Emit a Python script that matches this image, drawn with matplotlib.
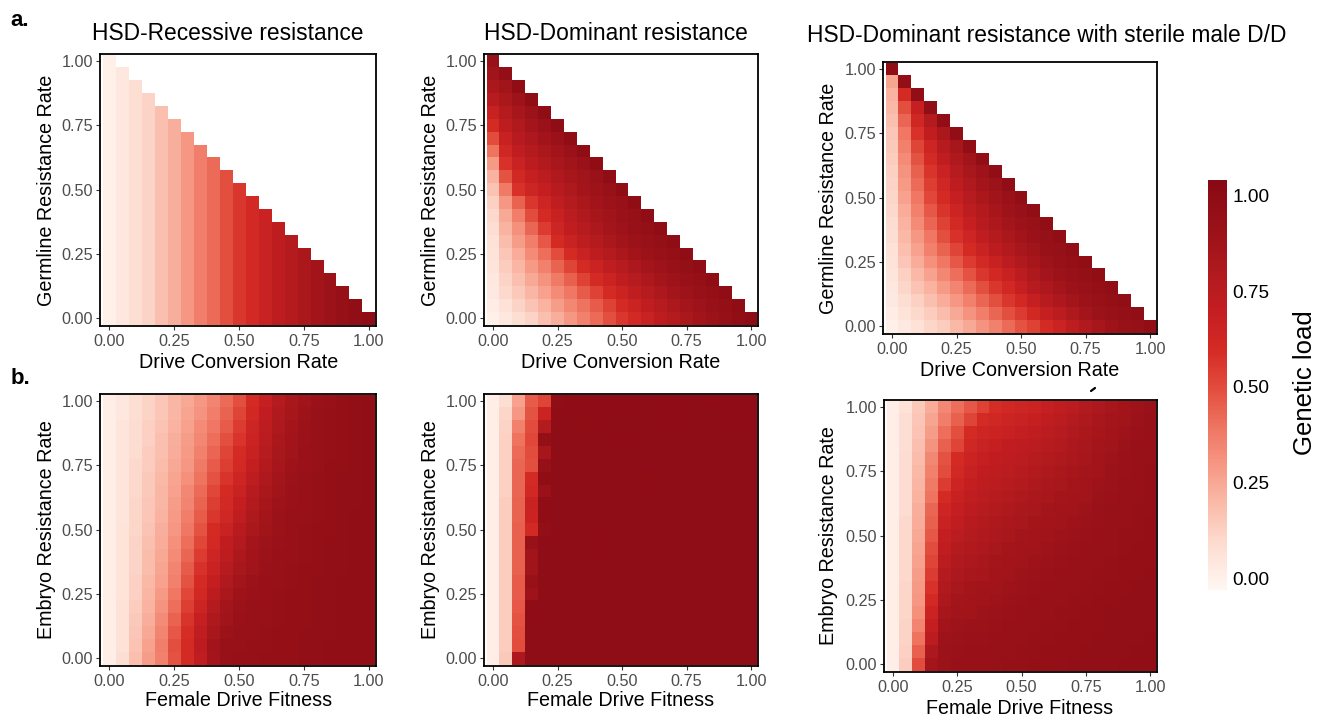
import numpy as np
import matplotlib
matplotlib.use("Agg")
import matplotlib.pyplot as plt
from matplotlib.colors import LinearSegmentedColormap, Normalize
from matplotlib.lines import Line2D

plt.rcParams['font.family'] = ['Liberation Sans', 'DejaVu Sans']

# ---------------- data ----------------
rates = [0.00, 0.05, 0.10, 0.15, 0.20, 0.25, 0.30, 0.35, 0.40, 0.45, 0.50,
         0.55, 0.60, 0.65, 0.70, 0.75, 0.80, 0.85, 0.90, 0.95, 1.00]
tick_values = [0.00, 0.25, 0.50, 0.75, 1.00]
tick_labels = ['0.00', '0.25', '0.50', '0.75', '1.00']

titles = ['HSD-Recessive resistance', 'HSD-Dominant resistance',
          'HSD-Dominant resistance with sterile male D/D']
xlabels_top = 'Drive Conversion Rate'
ylabels_top = 'Germline Resistance Rate'
xlabels_bot = 'Female Drive Fitness'
ylabels_bot = 'Embryo Resistance Rate'
legend_title = 'Genetic load'

# a. HSD-Recessive: load depends on conversion rate only (one value per column)
recessive_load_by_conversion = [0.00, 0.04, 0.08, 0.12, 0.18, 0.23, 0.30, 0.37, 0.42, 0.49, 0.56,
                                0.61, 0.67, 0.73, 0.78, 0.83, 0.87, 0.90, 0.94, 0.97, 1.00]

# a. HSD-Dominant (rows listed from resistance 1.00 down to 0.00)
dominant_germline = [
    [0.93],
    [0.88, 0.96],
    [0.83, 0.88, 0.98],
    [0.76, 0.83, 0.89, 0.98],
    [0.68, 0.78, 0.85, 0.90, 0.98],
    [0.60, 0.73, 0.80, 0.86, 0.91, 0.98],
    [0.50, 0.68, 0.76, 0.82, 0.87, 0.91, 0.98],
    [0.40, 0.63, 0.72, 0.78, 0.83, 0.87, 0.91, 0.98],
    [0.29, 0.58, 0.67, 0.74, 0.79, 0.84, 0.88, 0.91, 0.98],
    [0.22, 0.48, 0.62, 0.69, 0.75, 0.80, 0.85, 0.88, 0.91, 0.98],
    [0.17, 0.38, 0.58, 0.64, 0.70, 0.76, 0.81, 0.86, 0.89, 0.92, 0.98],
    [0.13, 0.30, 0.44, 0.56, 0.64, 0.72, 0.78, 0.83, 0.87, 0.90, 0.93, 0.98],
    [0.10, 0.25, 0.37, 0.50, 0.60, 0.68, 0.75, 0.80, 0.85, 0.88, 0.91, 0.94, 0.98],
    [0.08, 0.22, 0.32, 0.43, 0.55, 0.64, 0.71, 0.77, 0.82, 0.86, 0.89, 0.92, 0.95, 0.98],
    [0.07, 0.19, 0.28, 0.37, 0.47, 0.60, 0.67, 0.73, 0.78, 0.83, 0.87, 0.90, 0.93, 0.95, 0.98],
    [0.06, 0.16, 0.24, 0.33, 0.41, 0.50, 0.60, 0.67, 0.73, 0.78, 0.83, 0.87, 0.90, 0.93, 0.95, 0.98],
    [0.05, 0.14, 0.21, 0.29, 0.36, 0.44, 0.52, 0.60, 0.66, 0.72, 0.77, 0.82, 0.86, 0.89, 0.92, 0.95, 0.98],
    [0.04, 0.12, 0.18, 0.25, 0.31, 0.38, 0.45, 0.53, 0.60, 0.66, 0.72, 0.77, 0.82, 0.86, 0.89, 0.92, 0.95, 0.98],
    [0.03, 0.10, 0.15, 0.21, 0.27, 0.33, 0.39, 0.46, 0.53, 0.60, 0.66, 0.72, 0.77, 0.82, 0.86, 0.89, 0.92, 0.95, 0.98],
    [0.02, 0.07, 0.12, 0.17, 0.22, 0.28, 0.34, 0.40, 0.46, 0.53, 0.60, 0.66, 0.72, 0.77, 0.82, 0.86, 0.89, 0.92, 0.95, 0.98],
    [0.00, 0.04, 0.08, 0.12, 0.18, 0.23, 0.30, 0.36, 0.42, 0.49, 0.56, 0.61, 0.67, 0.73, 0.78, 0.83, 0.87, 0.90, 0.94, 0.97, 1.00],
]

# a. HSD-Dominant with sterile male D/D (rows from resistance 1.00 down to 0.00)
sterile_germline = [
    [0.98],
    [0.26, 0.96],
    [0.22, 0.60, 0.97],
    [0.20, 0.49, 0.69, 0.97],
    [0.18, 0.43, 0.63, 0.78, 0.97],
    [0.16, 0.39, 0.58, 0.71, 0.83, 0.97],
    [0.15, 0.36, 0.52, 0.64, 0.77, 0.85, 0.97],
    [0.14, 0.33, 0.48, 0.60, 0.72, 0.81, 0.88, 0.97],
    [0.13, 0.31, 0.45, 0.57, 0.67, 0.77, 0.84, 0.89, 0.97],
    [0.12, 0.29, 0.42, 0.54, 0.63, 0.73, 0.80, 0.86, 0.90, 0.97],
    [0.11, 0.27, 0.39, 0.51, 0.60, 0.69, 0.77, 0.83, 0.88, 0.91, 0.97],
    [0.10, 0.24, 0.36, 0.47, 0.57, 0.65, 0.73, 0.79, 0.85, 0.89, 0.92, 0.97],
    [0.09, 0.22, 0.33, 0.43, 0.53, 0.61, 0.69, 0.76, 0.82, 0.86, 0.90, 0.93, 0.97],
    [0.08, 0.20, 0.30, 0.39, 0.49, 0.58, 0.64, 0.72, 0.78, 0.83, 0.87, 0.91, 0.94, 0.97],
    [0.07, 0.18, 0.27, 0.36, 0.44, 0.52, 0.60, 0.67, 0.74, 0.79, 0.84, 0.88, 0.92, 0.94, 0.97],
    [0.06, 0.16, 0.24, 0.32, 0.39, 0.47, 0.55, 0.61, 0.68, 0.74, 0.80, 0.85, 0.89, 0.92, 0.95, 0.97],
    [0.05, 0.13, 0.20, 0.27, 0.34, 0.41, 0.48, 0.56, 0.62, 0.68, 0.75, 0.81, 0.86, 0.90, 0.93, 0.95, 0.97],
    [0.04, 0.11, 0.17, 0.22, 0.29, 0.35, 0.42, 0.49, 0.56, 0.62, 0.69, 0.76, 0.82, 0.86, 0.90, 0.93, 0.95, 0.97],
    [0.03, 0.08, 0.13, 0.18, 0.24, 0.30, 0.36, 0.43, 0.49, 0.56, 0.62, 0.69, 0.76, 0.82, 0.86, 0.90, 0.93, 0.95, 0.97],
    [0.02, 0.06, 0.10, 0.14, 0.19, 0.25, 0.31, 0.37, 0.43, 0.49, 0.55, 0.62, 0.69, 0.75, 0.81, 0.86, 0.90, 0.93, 0.95, 0.97],
    [0.00, 0.03, 0.07, 0.11, 0.14, 0.20, 0.25, 0.31, 0.36, 0.42, 0.48, 0.53, 0.60, 0.66, 0.73, 0.80, 0.85, 0.89, 0.92, 0.94, 0.97],
]

# b. HSD-Recessive: embryo resistance (rows) vs female drive fitness (columns)
recessive_embryo = [
    [0.01, 0.04, 0.08, 0.12, 0.16, 0.21, 0.25, 0.30, 0.35, 0.42, 0.49, 0.60, 0.69, 0.78, 0.84, 0.88, 0.91, 0.93, 0.95, 0.96, 0.97],
    [0.01, 0.04, 0.08, 0.12, 0.16, 0.21, 0.26, 0.31, 0.37, 0.44, 0.52, 0.62, 0.71, 0.80, 0.85, 0.89, 0.92, 0.94, 0.95, 0.96, 0.97],
    [0.01, 0.05, 0.09, 0.13, 0.17, 0.22, 0.27, 0.33, 0.39, 0.46, 0.55, 0.64, 0.73, 0.81, 0.86, 0.90, 0.92, 0.94, 0.95, 0.96, 0.97],
    [0.01, 0.05, 0.09, 0.13, 0.18, 0.23, 0.28, 0.34, 0.41, 0.49, 0.57, 0.66, 0.75, 0.83, 0.87, 0.90, 0.93, 0.94, 0.95, 0.96, 0.97],
    [0.01, 0.05, 0.09, 0.14, 0.18, 0.24, 0.29, 0.36, 0.43, 0.52, 0.60, 0.68, 0.77, 0.84, 0.88, 0.91, 0.93, 0.94, 0.95, 0.96, 0.97],
    [0.01, 0.05, 0.10, 0.14, 0.19, 0.25, 0.30, 0.38, 0.46, 0.54, 0.61, 0.70, 0.79, 0.85, 0.89, 0.91, 0.93, 0.95, 0.95, 0.96, 0.97],
    [0.01, 0.05, 0.10, 0.15, 0.20, 0.26, 0.32, 0.40, 0.48, 0.57, 0.64, 0.73, 0.81, 0.86, 0.90, 0.92, 0.94, 0.95, 0.96, 0.96, 0.97],
    [0.01, 0.05, 0.10, 0.15, 0.21, 0.27, 0.34, 0.42, 0.51, 0.60, 0.67, 0.76, 0.83, 0.88, 0.91, 0.92, 0.94, 0.95, 0.96, 0.96, 0.97],
    [0.01, 0.05, 0.11, 0.16, 0.21, 0.28, 0.35, 0.44, 0.54, 0.61, 0.70, 0.79, 0.85, 0.89, 0.91, 0.93, 0.94, 0.95, 0.96, 0.96, 0.97],
    [0.01, 0.05, 0.11, 0.16, 0.22, 0.29, 0.37, 0.46, 0.56, 0.63, 0.72, 0.81, 0.86, 0.90, 0.92, 0.93, 0.94, 0.95, 0.96, 0.97, 0.97],
    [0.01, 0.06, 0.11, 0.17, 0.23, 0.30, 0.39, 0.48, 0.60, 0.67, 0.76, 0.83, 0.88, 0.90, 0.92, 0.94, 0.95, 0.95, 0.96, 0.97, 0.97],
    [0.01, 0.06, 0.12, 0.18, 0.24, 0.32, 0.41, 0.51, 0.61, 0.71, 0.79, 0.86, 0.89, 0.91, 0.93, 0.94, 0.95, 0.96, 0.96, 0.97, 0.97],
    [0.01, 0.06, 0.12, 0.19, 0.25, 0.33, 0.43, 0.55, 0.64, 0.73, 0.82, 0.87, 0.90, 0.92, 0.93, 0.94, 0.95, 0.96, 0.96, 0.97, 0.97],
    [0.01, 0.06, 0.12, 0.19, 0.26, 0.35, 0.46, 0.58, 0.67, 0.77, 0.84, 0.88, 0.91, 0.92, 0.94, 0.95, 0.95, 0.96, 0.96, 0.97, 0.97],
    [0.01, 0.06, 0.13, 0.20, 0.27, 0.36, 0.48, 0.60, 0.70, 0.80, 0.86, 0.90, 0.92, 0.93, 0.94, 0.95, 0.96, 0.96, 0.97, 0.97, 0.97],
    [0.01, 0.06, 0.13, 0.21, 0.29, 0.39, 0.51, 0.62, 0.74, 0.83, 0.89, 0.91, 0.92, 0.94, 0.95, 0.95, 0.96, 0.96, 0.97, 0.97, 0.97],
    [0.01, 0.07, 0.14, 0.22, 0.31, 0.41, 0.54, 0.65, 0.78, 0.86, 0.90, 0.92, 0.93, 0.94, 0.95, 0.95, 0.96, 0.96, 0.97, 0.97, 0.97],
    [0.01, 0.07, 0.15, 0.23, 0.33, 0.44, 0.57, 0.69, 0.81, 0.88, 0.91, 0.92, 0.93, 0.94, 0.95, 0.95, 0.96, 0.96, 0.97, 0.97, 0.97],
    [0.01, 0.07, 0.16, 0.25, 0.35, 0.47, 0.59, 0.72, 0.84, 0.90, 0.92, 0.93, 0.94, 0.95, 0.95, 0.96, 0.96, 0.96, 0.97, 0.97, 0.97],
    [0.01, 0.07, 0.17, 0.27, 0.37, 0.49, 0.60, 0.74, 0.87, 0.92, 0.93, 0.94, 0.94, 0.95, 0.95, 0.96, 0.96, 0.97, 0.97, 0.97, 0.97],
    [0.01, 0.08, 0.18, 0.28, 0.36, 0.48, 0.60, 0.72, 0.86, 0.93, 0.94, 0.94, 0.95, 0.95, 0.95, 0.96, 0.96, 0.97, 0.97, 0.97, 0.97],
]

# b. HSD-Dominant
dominant_embryo = [
    [0.01, 0.08, 0.27, 0.46, 0.52, 0.97, 0.98, 0.98, 0.99, 0.99, 0.98, 0.99, 0.99, 0.98, 0.99, 0.99, 0.99, 0.98, 0.99, 0.98, 0.99],
    [0.01, 0.11, 0.30, 0.48, 0.66, 0.98, 0.99, 0.99, 0.98, 0.99, 0.99, 0.99, 0.99, 0.99, 0.98, 0.99, 0.99, 0.99, 0.99, 0.99, 0.99],
    [0.01, 0.12, 0.36, 0.50, 0.78, 0.99, 0.99, 0.98, 0.99, 0.99, 0.99, 0.99, 0.99, 0.99, 0.99, 0.99, 0.99, 0.99, 0.99, 0.98, 0.99],
    [0.01, 0.13, 0.40, 0.51, 0.95, 0.99, 0.99, 0.99, 0.99, 0.99, 0.98, 0.99, 0.99, 0.99, 0.99, 0.99, 0.99, 0.99, 0.99, 0.99, 0.99],
    [0.01, 0.13, 0.42, 0.50, 0.85, 0.99, 0.99, 0.99, 0.99, 0.99, 0.99, 0.99, 0.99, 0.99, 0.99, 0.99, 0.99, 0.99, 0.99, 0.99, 0.99],
    [0.01, 0.13, 0.43, 0.49, 0.94, 0.99, 0.99, 0.99, 0.99, 0.99, 0.99, 0.99, 0.99, 0.99, 0.99, 0.99, 0.99, 0.99, 0.99, 0.99, 0.99],
    [0.01, 0.13, 0.43, 0.60, 0.98, 0.99, 0.99, 0.99, 0.99, 0.99, 0.99, 0.99, 0.98, 0.99, 0.99, 0.99, 0.99, 0.99, 0.99, 0.99, 0.99],
    [0.01, 0.13, 0.43, 0.62, 0.91, 0.99, 0.99, 0.99, 0.99, 0.99, 0.99, 0.99, 0.99, 0.99, 0.99, 0.99, 0.99, 0.99, 0.99, 0.99, 0.99],
    [0.01, 0.14, 0.44, 0.67, 0.98, 0.99, 0.99, 0.99, 0.99, 0.99, 0.99, 0.99, 0.99, 0.99, 0.99, 0.99, 0.99, 0.99, 0.99, 0.99, 0.99],
    [0.01, 0.14, 0.44, 0.66, 0.98, 0.99, 0.99, 0.99, 0.99, 0.99, 0.99, 0.99, 0.99, 0.99, 0.99, 0.99, 0.99, 0.99, 0.99, 0.99, 0.99],
    [0.01, 0.14, 0.45, 0.61, 0.96, 0.99, 0.99, 0.99, 0.99, 0.99, 0.99, 0.99, 0.99, 0.99, 0.99, 0.99, 0.99, 0.99, 0.99, 0.99, 0.99],
    [0.01, 0.14, 0.45, 0.93, 0.99, 0.99, 0.99, 0.99, 0.98, 0.99, 0.99, 0.99, 0.99, 0.99, 0.99, 0.99, 0.99, 0.99, 0.99, 0.99, 0.99],
    [0.01, 0.14, 0.45, 0.88, 0.99, 0.99, 0.99, 0.99, 0.99, 0.99, 0.99, 0.99, 0.99, 0.99, 0.99, 0.99, 0.99, 0.99, 0.99, 0.99, 0.99],
    [0.01, 0.14, 0.45, 0.88, 0.99, 0.99, 0.99, 0.99, 0.99, 0.99, 0.99, 0.99, 0.99, 0.99, 0.99, 0.99, 0.99, 0.99, 0.99, 0.99, 0.99],
    [0.01, 0.14, 0.46, 0.93, 0.99, 0.99, 0.99, 0.99, 0.99, 0.99, 0.99, 0.99, 0.99, 0.99, 0.99, 0.99, 0.99, 0.99, 0.99, 0.99, 0.99],
    [0.01, 0.14, 0.46, 0.89, 0.99, 0.99, 0.99, 0.99, 0.99, 0.99, 0.99, 0.99, 0.99, 0.99, 0.99, 0.99, 0.99, 0.99, 0.99, 0.99, 0.99],
    [0.01, 0.14, 0.47, 0.98, 0.99, 0.99, 0.99, 0.99, 0.99, 0.99, 0.99, 0.99, 0.99, 0.99, 0.99, 0.99, 0.99, 0.99, 0.99, 0.99, 0.99],
    [0.01, 0.14, 0.48, 0.99, 0.99, 0.99, 0.99, 0.99, 0.99, 0.99, 0.99, 0.99, 0.99, 0.99, 0.99, 0.99, 0.99, 0.99, 0.99, 0.99, 0.99],
    [0.01, 0.14, 0.49, 0.99, 0.99, 0.99, 0.99, 0.99, 0.99, 0.99, 0.99, 0.99, 0.99, 0.99, 0.99, 0.99, 0.99, 0.99, 0.99, 0.99, 0.99],
    [0.01, 0.14, 0.50, 0.99, 0.99, 0.99, 0.99, 0.99, 0.99, 0.99, 0.99, 0.99, 0.99, 0.99, 0.99, 0.99, 0.99, 0.99, 0.99, 0.99, 0.99],
    [0.01, 0.15, 0.82, 0.99, 0.99, 0.99, 0.99, 0.99, 0.99, 0.99, 0.99, 0.99, 0.99, 0.99, 0.99, 0.99, 0.99, 0.99, 0.99, 0.99, 0.99],
]

# b. HSD-Dominant with sterile male D/D
sterile_embryo = [
    [0.01, 0.07, 0.15, 0.24, 0.34, 0.41, 0.47, 0.53, 0.59, 0.62, 0.64, 0.66, 0.69, 0.72, 0.75, 0.79, 0.82, 0.85, 0.87, 0.89, 0.91],
    [0.01, 0.08, 0.16, 0.26, 0.37, 0.45, 0.52, 0.60, 0.63, 0.65, 0.67, 0.69, 0.72, 0.75, 0.78, 0.81, 0.84, 0.86, 0.88, 0.90, 0.92],
    [0.01, 0.08, 0.17, 0.28, 0.41, 0.49, 0.60, 0.64, 0.66, 0.68, 0.70, 0.72, 0.75, 0.77, 0.80, 0.83, 0.85, 0.87, 0.89, 0.91, 0.92],
    [0.01, 0.08, 0.18, 0.31, 0.45, 0.52, 0.63, 0.67, 0.69, 0.71, 0.73, 0.75, 0.77, 0.79, 0.82, 0.84, 0.86, 0.88, 0.90, 0.92, 0.93],
    [0.01, 0.09, 0.19, 0.34, 0.48, 0.60, 0.66, 0.69, 0.71, 0.73, 0.75, 0.77, 0.79, 0.81, 0.83, 0.85, 0.87, 0.89, 0.91, 0.92, 0.93],
    [0.01, 0.09, 0.20, 0.36, 0.50, 0.62, 0.68, 0.71, 0.73, 0.75, 0.77, 0.79, 0.81, 0.83, 0.85, 0.86, 0.88, 0.90, 0.91, 0.93, 0.94],
    [0.01, 0.09, 0.21, 0.38, 0.55, 0.65, 0.70, 0.73, 0.75, 0.77, 0.79, 0.81, 0.83, 0.84, 0.86, 0.87, 0.89, 0.90, 0.92, 0.93, 0.94],
    [0.01, 0.09, 0.22, 0.40, 0.60, 0.68, 0.72, 0.75, 0.77, 0.79, 0.81, 0.83, 0.84, 0.86, 0.87, 0.88, 0.90, 0.91, 0.92, 0.93, 0.94],
    [0.01, 0.09, 0.23, 0.43, 0.64, 0.70, 0.74, 0.77, 0.79, 0.81, 0.83, 0.84, 0.86, 0.87, 0.88, 0.89, 0.91, 0.92, 0.93, 0.94, 0.94],
    [0.01, 0.10, 0.24, 0.45, 0.67, 0.72, 0.76, 0.79, 0.81, 0.83, 0.84, 0.86, 0.87, 0.88, 0.89, 0.90, 0.91, 0.92, 0.93, 0.94, 0.95],
    [0.01, 0.10, 0.25, 0.47, 0.70, 0.75, 0.78, 0.80, 0.82, 0.84, 0.86, 0.87, 0.88, 0.89, 0.90, 0.91, 0.92, 0.93, 0.94, 0.94, 0.95],
    [0.01, 0.10, 0.26, 0.50, 0.72, 0.78, 0.80, 0.82, 0.84, 0.86, 0.87, 0.88, 0.89, 0.90, 0.91, 0.92, 0.93, 0.93, 0.94, 0.95, 0.95],
    [0.01, 0.10, 0.27, 0.52, 0.75, 0.80, 0.82, 0.84, 0.86, 0.87, 0.88, 0.89, 0.90, 0.91, 0.92, 0.93, 0.93, 0.94, 0.95, 0.95, 0.95],
    [0.01, 0.10, 0.28, 0.55, 0.78, 0.82, 0.84, 0.85, 0.87, 0.88, 0.89, 0.90, 0.91, 0.92, 0.93, 0.93, 0.94, 0.94, 0.95, 0.95, 0.96],
    [0.01, 0.11, 0.29, 0.58, 0.80, 0.84, 0.86, 0.87, 0.88, 0.89, 0.90, 0.91, 0.92, 0.93, 0.93, 0.94, 0.94, 0.95, 0.95, 0.96, 0.96],
    [0.01, 0.11, 0.30, 0.61, 0.82, 0.86, 0.87, 0.88, 0.89, 0.90, 0.91, 0.92, 0.93, 0.93, 0.94, 0.94, 0.95, 0.95, 0.96, 0.96, 0.96],
    [0.01, 0.11, 0.32, 0.66, 0.85, 0.88, 0.88, 0.89, 0.90, 0.91, 0.92, 0.93, 0.93, 0.94, 0.94, 0.95, 0.95, 0.96, 0.96, 0.96, 0.96],
    [0.01, 0.12, 0.35, 0.70, 0.87, 0.89, 0.90, 0.90, 0.91, 0.92, 0.93, 0.93, 0.94, 0.94, 0.95, 0.95, 0.95, 0.96, 0.96, 0.96, 0.96],
    [0.01, 0.12, 0.40, 0.74, 0.89, 0.90, 0.91, 0.91, 0.92, 0.93, 0.93, 0.94, 0.94, 0.95, 0.95, 0.95, 0.96, 0.96, 0.96, 0.96, 0.97],
    [0.01, 0.13, 0.45, 0.82, 0.90, 0.91, 0.92, 0.92, 0.93, 0.93, 0.94, 0.94, 0.95, 0.95, 0.95, 0.96, 0.96, 0.96, 0.96, 0.97, 0.97],
    [0.01, 0.14, 0.50, 0.86, 0.90, 0.92, 0.92, 0.93, 0.93, 0.94, 0.94, 0.95, 0.95, 0.95, 0.96, 0.96, 0.96, 0.96, 0.97, 0.97, 0.97],
]

# ---------------- style ----------------
W, H = 1327, 717
DPI = 100
color_stops = [(-0.03, '#FFF6F2'), (0.00, '#FFF0EA'), (0.10, '#FDD9CD'), (0.20, '#FAB9A7'),
               (0.30, '#F59682'), (0.40, '#EE735F'), (0.50, '#E24B3C'), (0.60, '#D42A24'),
               (0.70, '#C41E21'), (0.80, '#B01A1E'), (0.90, '#9C1219'), (1.04, '#880A14')]
vmin, vmax = color_stops[0][0], color_stops[-1][0]
cmap = LinearSegmentedColormap.from_list(
    'load', [((v - vmin) / (vmax - vmin), c) for v, c in color_stops])
norm = Normalize(vmin=vmin, vmax=vmax)

fig = plt.figure(figsize=(W / DPI, H / DPI), dpi=DPI)
fig.patch.set_facecolor('white')


def px_axes(left, top, right, bottom):
    return fig.add_axes([left / W, 1 - bottom / H, (right - left) / W, (bottom - top) / H])


def fig_text(x, y, s, **kw):
    return fig.text(x / W, 1 - y / H, s, **kw)


n = len(rates)
rates_arr = np.array(rates)
edges = np.concatenate([rates_arr - 0.025, [rates_arr[-1] + 0.025]])


def rows_to_grid(rows_top_first):
    Z = np.full((n, n), np.nan)
    for i, row in enumerate(rows_top_first):
        r = n - 1 - i
        Z[r, :len(row)] = row
    return Z


# recessive triangle: uniform per column, only where conversion + resistance <= 1
Z_rec = np.full((n, n), np.nan)
for r in range(n):
    for c in range(n - r):
        Z_rec[r, c] = recessive_load_by_conversion[c]

grids = [Z_rec, rows_to_grid(dominant_germline), rows_to_grid(sterile_germline),
         rows_to_grid(recessive_embryo), rows_to_grid(dominant_embryo), rows_to_grid(sterile_embryo)]

boxes = [(100, 54, 376, 326), (484, 54, 758, 326), (883, 62, 1157, 334),
         (100, 394, 376, 666), (484, 394, 758, 666), (884, 400, 1157, 672)]

xlabel_pos = [(239, 362), (621, 362), (1020, 370), (239, 701), (621, 701), (1020, 708)]
ylabel_pos = [(47, 190), (431, 190), (829, 198), (47, 530), (431, 530), (829, 536)]
title_pos = [(228, 33), (616, 33), (1047, 35)]

for k, (Z, box) in enumerate(zip(grids, boxes)):
    ax = px_axes(*box)
    ax.pcolormesh(edges, edges, np.ma.masked_invalid(Z), cmap=cmap, norm=norm,
                  shading='flat', edgecolors='none', antialiased=False)
    ax.set_xlim(-0.035, 1.027)
    ax.set_ylim(-0.03, 1.027)
    ax.set_xticks(tick_values)
    ax.set_xticklabels(tick_labels)
    ax.set_yticks(tick_values)
    ax.set_yticklabels(tick_labels)
    ax.tick_params(axis='both', direction='out', length=3.0, width=0.8, color='#333333',
                   labelsize=11.7, labelcolor='#4D4D4D')
    ax.tick_params(axis='x', pad=3)
    ax.tick_params(axis='y', pad=2)
    for sp in ax.spines.values():
        sp.set_linewidth(1.3)
        sp.set_color('black')
    ax.set_facecolor('white')
    xl = xlabels_top if k < 3 else xlabels_bot
    yl = ylabels_top if k < 3 else ylabels_bot
    fig_text(*xlabel_pos[k], xl, ha='center', va='center', fontsize=14.2, color='black')
    fig_text(*ylabel_pos[k], yl, ha='center', va='center', fontsize=14.2, color='black',
             rotation=90)

for t, pos in zip(titles, title_pos):
    fig_text(*pos, t, ha='center', va='center', fontsize=16.4, color='black')

fig_text(20, 20, 'a.', ha='center', va='center', fontsize=16, fontweight='bold')
fig_text(20, 378, 'b.', ha='center', va='center', fontsize=16, fontweight='bold')

# small stray mark seen above the lower-right panel
fig.add_artist(Line2D([1091 / W, 1095 / W], [1 - 391 / H, 1 - 388 / H],
                      color='black', linewidth=1.6, solid_capstyle='round'))

# colorbar
cax = px_axes(1208, 180, 1227, 590)
sm = matplotlib.cm.ScalarMappable(norm=norm, cmap=cmap)
cb = fig.colorbar(sm, cax=cax, ticks=tick_values)
cb.ax.set_yticklabels(tick_labels)
cb.outline.set_visible(False)
cb.ax.tick_params(length=0, labelsize=13.7, labelcolor='black', pad=4)
fig_text(1305, 383, legend_title, ha='center', va='center', fontsize=18.5, rotation=90)

fig.savefig('out.png', dpi=DPI, facecolor='white')
